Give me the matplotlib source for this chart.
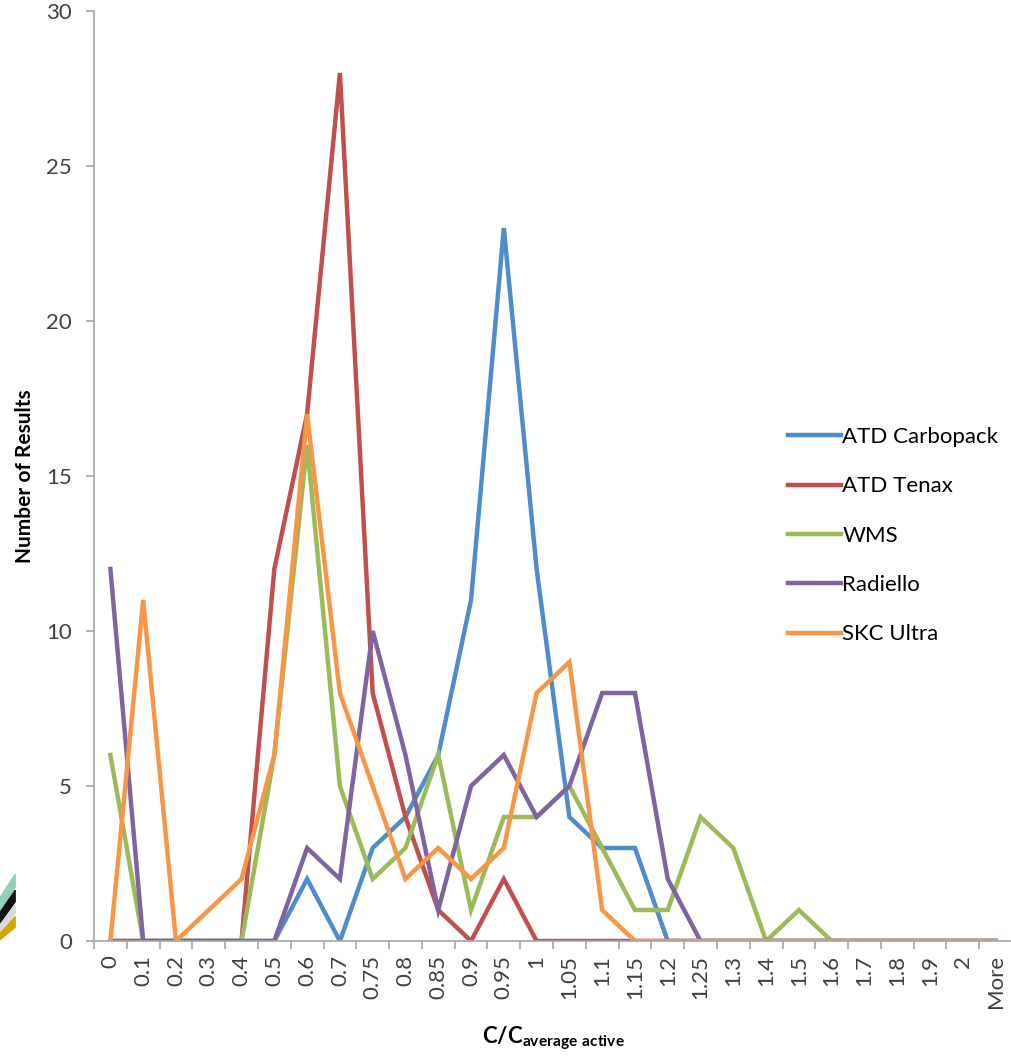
import matplotlib.pyplot as plt
import numpy as np
from matplotlib.patches import Polygon

# category labels (histogram bins)
bins = ['0', '0.1', '0.2', '0.3', '0.4', '0.5', '0.6', '0.7', '0.75', '0.8',
        '0.85', '0.9', '0.95', '1', '1.05', '1.1', '1.15', '1.2', '1.25', '1.3',
        '1.4', '1.5', '1.6', '1.7', '1.8', '1.9', '2', 'More']

carbopack = [0, 0, 0, 0, 0, 0, 2, 0, 3, 4, 6, 11, 23, 12, 4, 3, 3, 0, 0, 0, 0, 0, 0, 0, 0, 0, 0, 0]
tenax     = [0, 0, 0, 0, 0, 12, 17, 28, 8, 4, 1, 0, 2, 0, 0, 0, 0, 0, 0, 0, 0, 0, 0, 0, 0, 0, 0, 0]
wms       = [6, 0, 0, 0, 0, 6, 16, 5, 2, 3, 6, 1, 4, 4, 5, 3, 1, 1, 4, 3, 0, 1, 0, 0, 0, 0, 0, 0]
radiello  = [12, 0, 0, 0, 0, 0, 3, 2, 10, 6, 1, 5, 6, 4, 5, 8, 8, 2, 0, 0, 0, 0, 0, 0, 0, 0, 0, 0]
skc_ultra = [0, 11, 0, 1, 2, 6, 17, 8, 5, 2, 3, 2, 3, 8, 9, 1, 0, 0, 0, 0, 0, 0, 0, 0, 0, 0, 0, 0]

series_names = ['ATD Carbopack', 'ATD Tenax', 'WMS', 'Radiello', 'SKC Ultra']
colors = ['#4F8CCB', '#C0504D', '#9BBB59', '#8064A2', '#F79646']

plt.rcParams['font.family'] = ['Lato', 'DejaVu Sans']
plt.rcParams['mathtext.fontset'] = 'custom'
plt.rcParams['mathtext.bf'] = 'Lato:bold'
plt.rcParams['mathtext.rm'] = 'Lato'

fig = plt.figure(figsize=(10.11, 10.56), dpi=100)
ax = fig.add_axes([94 / 1011, 1 - 941 / 1056, (1012 - 94) / 1011, (941 - 11) / 1056])

x = np.arange(len(bins))
for vals, name, c in zip([carbopack, tenax, wms, radiello, skc_ultra], series_names, colors):
    ax.plot(x, vals, color=c, lw=3.2, label=name, solid_joinstyle='miter')

ax.set_xlim(-0.5, len(bins) - 0.5)
ax.set_ylim(0, 30)
ax.set_yticks(range(0, 31, 5))

# category axis: labels centred, tick marks between categories
ax.set_xticks(x)
ax.set_xticklabels(bins, rotation=90, fontsize=16, color='#404040')
ax.set_xticks(np.arange(-0.5, len(bins)), minor=True)
ax.tick_params(axis='x', which='major', length=0, pad=10)
ax.tick_params(axis='x', which='minor', length=6, color='#A6A6A6', width=1.2)
ax.tick_params(axis='y', length=6, color='#A6A6A6', width=1.2, labelsize=16,
               labelcolor='#404040', pad=10)

for s in ['top', 'right']:
    ax.spines[s].set_visible(False)
for s in ['left', 'bottom']:
    ax.spines[s].set_color('#A6A6A6')
    ax.spines[s].set_linewidth(1.2)

ax.set_ylabel('Number of Results', fontsize=15, fontweight='bold', labelpad=8)
ax.set_xlabel(r'$\mathbf{C/C}_{\mathbf{average\ active}}$', fontsize=16, labelpad=12)

ax.legend(loc='upper left', bbox_to_anchor=(788 / 1011, 1 - 427 / 1056),
          bbox_transform=fig.transFigure, frameon=False, fontsize=16,
          handlelength=2.4, handletextpad=0.05, labelspacing=1.32,
          borderaxespad=0, borderpad=0)

# cropped logo fragment at bottom-left edge
stripes = [('#8FD3B6', [(0, 0.150), (0.015, 0.172), (0.015, 0.160), (0, 0.138)]),
           ('#111111', [(0, 0.136), (0.015, 0.157), (0.015, 0.146), (0, 0.126)]),
           ('#D9D9D9', [(0, 0.124), (0.015, 0.143), (0.015, 0.135), (0, 0.118)]),
           ('#D4A800', [(0, 0.116), (0.015, 0.132), (0.015, 0.122), (0, 0.110)])]
for c, pts in stripes:
    fig.patches.append(Polygon(pts, closed=True, color=c, transform=fig.transFigure))

fig.savefig('out.png', dpi=100)
